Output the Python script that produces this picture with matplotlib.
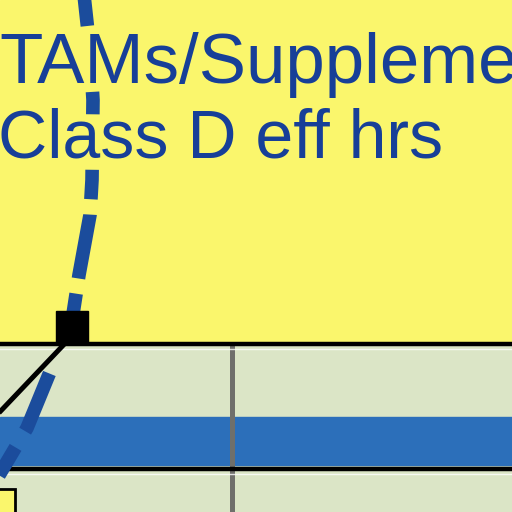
import matplotlib.pyplot as plt

# panel coordinates (0..512, y down)
curve_x = [84, 90, 93, 92, 90, 79, 71, 50, 27, 14, -5]
curve_y = [-5, 50, 100, 180, 215, 275, 327, 372, 428, 450, 482]
marker_x, marker_y = 72, 327
link_x = [72, -5]
link_y = [336, 417]
rule_y = [344, 469]
band = (417, 465)
grid_x = 232
label_lines = ["TAMs/Suppleme", "Class D eff hrs"]

yellow = '#faf66c'
pale = '#dbe5c6'
blue = '#2c6fba'
text_blue = '#173f98'
curve_blue = '#1b4c9c'

fig = plt.figure(figsize=(5.12, 5.12), dpi=100)
ax = fig.add_axes([0, 0, 1, 1])
ax.set_xlim(0, 512)
ax.set_ylim(512, 0)
ax.axis('off')

ax.axhspan(0, rule_y[0], color=yellow, zorder=0)
ax.axhspan(rule_y[0], 512, color=pale, zorder=0)
ax.axhspan(band[0], band[1], color=blue, zorder=1)
for y in rule_y:
    ax.axhline(y, color='black', lw=3.2, zorder=3)
    ax.axhline(y + 5, color='white', lw=1.0, alpha=0.8, zorder=3)
ax.plot([grid_x, grid_x], [rule_y[0] + 2, 512], color='#6f6f6b', lw=3.6, zorder=2)

# small legend swatch, bottom left
ax.add_patch(plt.Rectangle((-5, 489), 20, 30, facecolor=yellow, edgecolor='black', lw=2, zorder=4))

ax.plot(link_x, link_y, color='black', lw=3.6, zorder=5, solid_capstyle='butt')
# irregular dash run as seen in the scan (units of line width)
lw_curve = 9.8
dash_seq = [v * 8.5 / lw_curve for v in (2.3, 5.6, 1.9, 4.7, 2.5, 1.3, 5.5, 1.3, 3.8, 3.4, 5.3, 1.6, 5.1, 1.0)]
ax.plot(curve_x, curve_y, color=curve_blue, lw=lw_curve, dashes=dash_seq, zorder=4,
        dash_capstyle='butt')
ax.plot([marker_x], [marker_y], marker='s', color='black', ms=23, zorder=6)

ax.text(-1, 83, label_lines[0], fontsize=51, color=text_blue, family='Liberation Sans',
        va='baseline', ha='left', zorder=7)
ax.text(-2, 157, label_lines[1], fontsize=49, color=text_blue, family='Liberation Sans',
        va='baseline', ha='left', zorder=7)

fig.savefig('out.png', dpi=100)
